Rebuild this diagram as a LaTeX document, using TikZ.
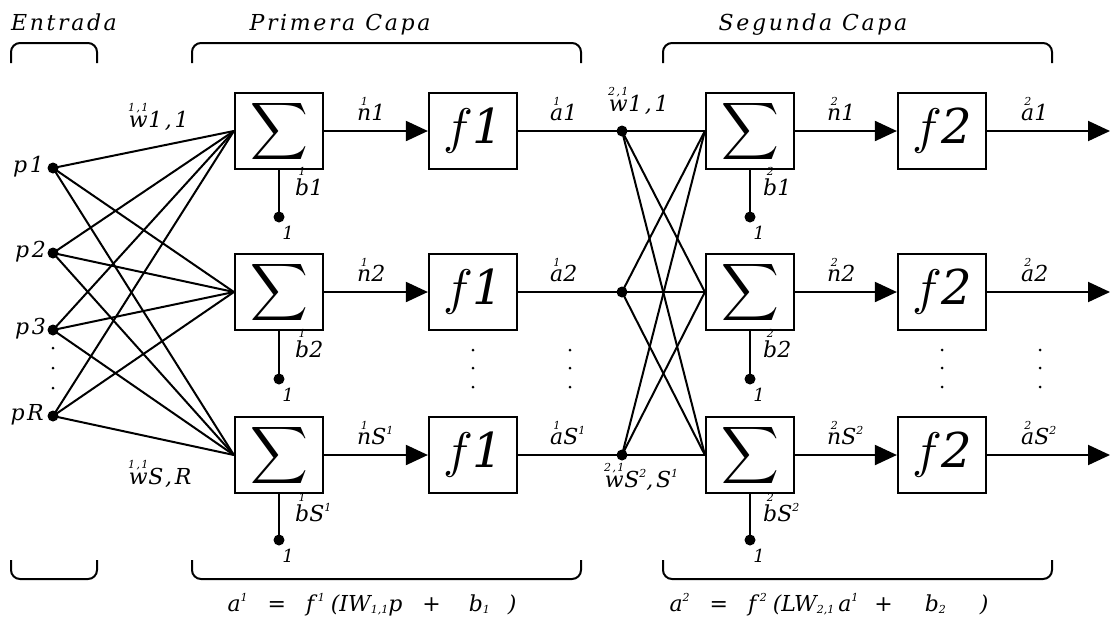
\documentclass[tikz,border=0pt]{standalone}
\usepackage{fontspec}
\usepackage{graphicx}
\usetikzlibrary{arrows.meta}
\newfontfamily\lblfont[LetterSpace=12]{DejaVu Serif}
\newfontfamily\plainfont{DejaVu Serif}
\newcommand{\supfont}{\fontsize{11}{11}\selectfont}
\newcommand{\ovr}[2]{\leavevmode\vbox{\offinterlineskip\halign{\hfil##\hfil\cr{\supfont #1}\cr\noalign{\kern3pt}#2\cr}}}
\newcommand{\upn}[1]{\raisebox{10pt}{\supfont #1}}
\newcommand{\dnn}[1]{\raisebox{-2pt}{\supfont #1}}
\newcommand{\sumsym}{\scalebox{4}{$\displaystyle\sum$}}
\newcommand{\fsym}[1]{\scalebox{5}{$f$}\hspace{-1pt}{\plainfont\itshape\fontsize{48}{48}\selectfont #1}}
\tikzset{
  box/.style={draw, line width=2.2pt, minimum width=88pt, minimum height=76pt, inner sep=0pt},
  lbl/.style={inner sep=0pt, font=\lblfont\itshape\fontsize{22}{22}\selectfont},
  one/.style={inner sep=0pt, font=\plainfont\itshape\fontsize{18}{18}\selectfont, anchor=base},
  eqn/.style={inner sep=0pt, anchor=base, font=\plainfont\itshape\fontsize{22}{22}\selectfont},
  dot/.style={circle, fill, inner sep=0pt, minimum size=11pt},
  conn/.style={line width=2pt},
  brk/.style={line width=2pt, rounded corners=9pt},
  arr/.style={conn, -{Triangle[length=22pt,width=20pt]}},
}
\begin{document}
\begin{tikzpicture}[x=1pt,y=-1pt]
\useasboundingbox (0,0) rectangle (1111,622);
% titles
\node[lbl, anchor=base] (tEnt) at (64,30) {Entrada};
\node[lbl, anchor=base] (tPri) at (340,30) {Primera\hspace{10pt}Capa};
\node[lbl, anchor=base] (tSeg) at (813,30) {Segunda\hspace{10pt}Capa};
% brackets
\draw[brk] (11,63) -- (11,43) -- (97,43) -- (97,63);
\draw[brk] (192,63) -- (192,43) -- (581,43) -- (581,63);
\draw[brk] (663,63) -- (663,43) -- (1052,43) -- (1052,63);
\draw[brk] (11,560) -- (11,579) -- (97,579) -- (97,560);
\draw[brk] (192,560) -- (192,579) -- (581,579) -- (581,560);
\draw[brk] (663,560) -- (663,579) -- (1052,579) -- (1052,560);
% inputs
\node[dot] (p1) at (53,168) {};
\node[dot] (p2) at (53,253) {};
\node[dot] (p3) at (53,330) {};
\node[dot] (pR) at (53,416) {};
\node[lbl, anchor=base east] (lp1) at (44,172) {p1};
\node[lbl, anchor=base east] (lp2) at (46,257) {p2};
\node[lbl, anchor=base east] (lp3) at (46,334) {p3};
\node[lbl, anchor=base east] (lpR) at (44,420) {pR};
% layer 1 boxes
\node[box] (sA1) at (279,131) {\sumsym};
\node[box] (sA2) at (279,292) {\sumsym};
\node[box] (sA3) at (279,455) {\sumsym};
\node[box] (fA1) at (473,131) {\fsym{1}};
\node[box] (fA2) at (473,292) {\fsym{1}};
\node[box] (fA3) at (473,455) {\fsym{1}};
% hidden dots
\node[dot] (hA1) at (622,131) {};
\node[dot] (hA2) at (622,292) {};
\node[dot] (hA3) at (622,455) {};
% layer 2 boxes
\node[box] (sB1) at (750,131) {\sumsym};
\node[box] (sB2) at (750,292) {\sumsym};
\node[box] (sB3) at (750,455) {\sumsym};
\node[box] (fB1) at (942,131) {\fsym{2}};
\node[box] (fB2) at (942,292) {\fsym{2}};
\node[box] (fB3) at (942,455) {\fsym{2}};
\coordinate (oB1) at (1110,131);
\coordinate (oB2) at (1110,292);
\coordinate (oB3) at (1110,455);
% bias dots
\node[dot] (bA1) at (279,217) {};
\node[dot] (bA2) at (279,379) {};
\node[dot] (bA3) at (279,540) {};
\node[dot] (bB1) at (750,217) {};
\node[dot] (bB2) at (750,379) {};
\node[dot] (bB3) at (750,540) {};
\foreach \b in {bA1,bA2,bA3,bB1,bB2,bB3}{
  \node[one] (one\b) at ([xshift=9pt,yshift=-22pt]\b.center) {1};
}
% connections
\foreach \p in {p1,p2,p3,pR}{
  \foreach \s in {sA1,sA2,sA3}{ \draw[conn] (\p.center) -- (\s.west); }
}
\foreach \h in {hA1,hA2,hA3}{
  \foreach \s in {sB1,sB2,sB3}{ \draw[conn] (\h.center) -- (\s.west); }
}
\foreach \i in {1,2,3}{
  \draw[arr] (sA\i) -- (fA\i);
  \draw[conn] (fA\i) -- (hA\i.center);
  \draw[arr] (sB\i) -- (fB\i);
  \draw[arr] (fB\i) -- (oB\i);
  \draw[conn] (sA\i) -- (bA\i.center);
  \draw[conn] (sB\i) -- (bB\i.center);
}
% vertical ellipsis dots
\foreach \x in {53}{\foreach \y in {348,368,388}{\fill (\x,\y) circle (1.5pt);}}
\foreach \x in {473,570,942,1040}{\foreach \y in {350,368,387}{\fill (\x,\y) circle (1.5pt);}}
% weight labels
\node[lbl, anchor=base west] (wA11) at (128,127) {\ovr{1,1}{w}1,1};
\node[lbl, anchor=base west] (wASR) at (128,484) {\ovr{1,1}{w}S,R};
\node[lbl, anchor=base west] (wB11) at (608,111) {\ovr{2,1}{w}1,1};
\node[lbl, anchor=base west] (wBSS) at (604,487) {\ovr{2,1}{w}S\upn{2},S\upn{1}};
% layer 1 labels
\node[lbl, anchor=base west] (nA1) at (357,120) {\ovr{1}{n}1};
\node[lbl, anchor=base west] (nA2) at (357,281) {\ovr{1}{n}2};
\node[lbl, anchor=base west] (nA3) at (357,444) {\ovr{1}{n}S\upn{1}};
\node[lbl, anchor=base west] (aA1) at (550,120) {\ovr{1}{a}1};
\node[lbl, anchor=base west] (aA2) at (550,281) {\ovr{1}{a}2};
\node[lbl, anchor=base west] (aA3) at (550,444) {\ovr{1}{a}S\upn{1}};
\node[lbl, anchor=base west] (lbA1) at (295,195) {\ovr{1}{b}1};
\node[lbl, anchor=base west] (lbA2) at (295,357) {\ovr{1}{b}2};
\node[lbl, anchor=base west] (lbA3) at (295,521) {\ovr{1}{b}S\upn{1}};
% layer 2 labels
\node[lbl, anchor=base west] (nB1) at (827,120) {\ovr{2}{n}1};
\node[lbl, anchor=base west] (nB2) at (827,281) {\ovr{2}{n}2};
\node[lbl, anchor=base west] (nB3) at (827,444) {\ovr{2}{n}S\upn{2}};
\node[lbl, anchor=base west] (aB1) at (1021,120) {\ovr{2}{a}1};
\node[lbl, anchor=base west] (aB2) at (1021,281) {\ovr{2}{a}2};
\node[lbl, anchor=base west] (aB3) at (1021,444) {\ovr{2}{a}S\upn{2}};
\node[lbl, anchor=base west] (lbB1) at (763,195) {\ovr{2}{b}1};
\node[lbl, anchor=base west] (lbB2) at (763,357) {\ovr{2}{b}2};
\node[lbl, anchor=base west] (lbB3) at (763,521) {\ovr{2}{b}S\upn{2}};
% equations
\node[eqn] (eq1) at (372,611) {a\upn{1}\hspace{20pt}=\hspace{20pt}f\,\upn{1}\hspace{6pt}(IW\dnn{1,1}p\hspace{20pt}+\hspace{28pt}b\dnn{1}\hspace{18pt})};
\node[eqn] (eq2) at (829,611) {a\upn{2}\hspace{20pt}=\hspace{20pt}f\,\upn{2}\hspace{6pt}(LW\dnn{2,1}\hspace{4pt}a\upn{1}\hspace{16pt}+\hspace{32pt}b\dnn{2}\hspace{34pt})};
\end{tikzpicture}
\end{document}
